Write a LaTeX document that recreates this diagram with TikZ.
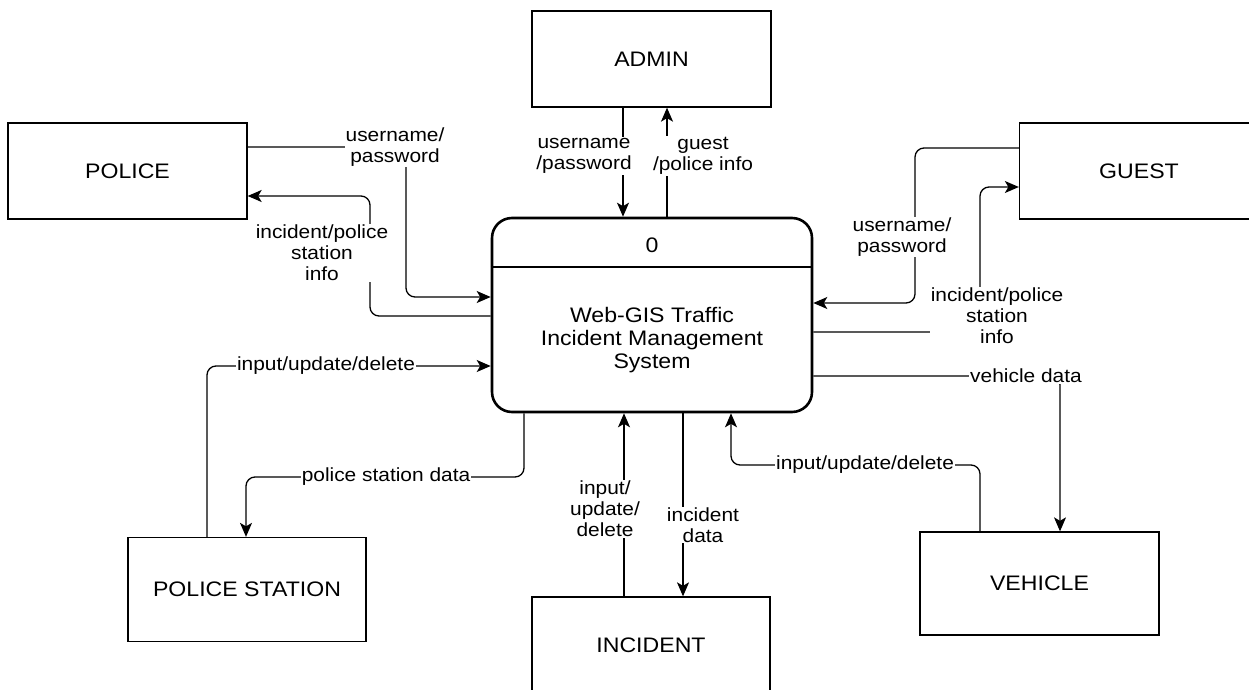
\documentclass[tikz,border=0pt]{standalone}
\usepackage{fontspec}
\setmainfont{Liberation Sans}[FakeStretch=1.1]
\usetikzlibrary{arrows.meta}

\begin{document}
\begin{tikzpicture}[x=1pt,y=-1pt,
  entity/.style={draw,line width=1.3pt,minimum width=239pt,minimum height=96pt,font=\fontsize{21}{23}\selectfont},
  flow/.style={line width=1.3pt,rounded corners=9pt,-{Stealth[length=14pt,width=12pt,inset=3.5pt]}},
  lbl/.style={fill=white,align=center,inner sep=1pt,font=\fontsize{19}{21}\selectfont}]
  \useasboundingbox (0,0) rectangle (1249,690);
  \clip (0,0) rectangle (1249,690);
  \node[entity] (police) at (127.5,171) {POLICE};
  \node[entity] (admin) at (651.5,59) {ADMIN};
  \node[entity] (guest) at (1139,171) {GUEST};
  \node[entity,minimum width=238pt,minimum height=104pt] (pstation) at (247,589.5) {POLICE STATION};
  \node[entity,minimum width=238pt,minimum height=96pt] (incident) at (651,645) {INCIDENT};
  \node[entity,minimum width=239pt,minimum height=103pt] (vehicle) at (1039.5,583.5) {VEHICLE};
  \node[draw,line width=2.6pt,rounded corners=20pt,minimum width=320pt,minimum height=194pt] (proc) at (652,315) {};
  \draw[line width=2.2pt] (proc.west |- 0,267) -- (proc.east |- 0,267);
  \node[font=\fontsize{21}{23}\selectfont] (procid) at (652,245) {0};
  \node[align=center,font=\fontsize{21}{23}\selectfont] (procname) at (652,340) {Web-GIS Traffic\\Incident Management\\System};

  \draw[flow] (admin.south -| 623,0) -- (proc.north -| 623,0);
  \draw[flow] (proc.north -| 667,0) -- (admin.south -| 667,0);
  \draw[flow] ([yshift=24pt]police.east) -| (406,297) -- (proc.west |- 0,297);
  \draw[flow] (proc.west |- 0,316) -| (370,196) -- ([yshift=-25pt]police.east);
  \draw[flow] ([yshift=23pt]guest.west) -| (915,303) -- (proc.east |- 0,303);
  \draw[flow] (proc.east |- 0,332) -| (980,187) -- ([yshift=-16pt]guest.west);
  \draw[flow] (pstation.north -| 207,0) |- (proc.west |- 0,366);
  \draw[flow] (proc.south -| 524,0) |- (246,477) -- (pstation.north -| 246,0);
  \draw[flow] (incident.north -| 624,0) -- (proc.south -| 624,0);
  \draw[flow] (proc.south -| 683,0) -- (incident.north -| 683,0);
  \draw[flow] (vehicle.north -| 980,0) |- (731,465) -- (proc.south -| 731,0);
  \draw[flow] (proc.east |- 0,376) -| (vehicle.north -| 1060,0);

  \node[lbl] (l1) at (584,156) {username\\/password};
  \node[lbl] (l2) at (703,156) {guest\\/police info};
  \node[lbl] (l3) at (395,147) {username/\\password};
  \node[lbl] (l4) at (322,253) {incident/police\\station\\info};
  \node[lbl] (l5) at (902,237) {username/\\password};
  \node[lbl] (l6) at (997,316) {incident/police\\station\\info};
  \node[lbl] (l7) at (326,366) {input/update/delete};
  \node[lbl] (l8) at (386,477) {police station data};
  \node[lbl] (l9) at (605,509) {input/\\update/\\delete};
  \node[lbl] (l10) at (703,525) {incident\\data};
  \node[lbl] (l11) at (865,465) {input/update/delete};
  \node[lbl] (l12) at (1026,376) {vehicle data};
\end{tikzpicture}
\end{document}
